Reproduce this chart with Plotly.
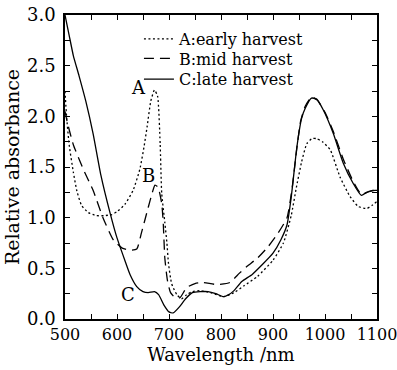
import plotly.graph_objects as go

# Curve A: early harvest (dotted)
wl_a = [500, 503, 508, 516, 523, 532, 545, 560, 575, 590, 600, 615, 631, 644, 652, 658, 665, 672, 678, 683, 686, 692, 696, 699, 705, 715, 724, 734, 745, 760, 780, 805, 825, 845, 870, 900, 920, 935, 945, 955, 965, 975, 984, 995, 1010, 1029, 1048, 1064, 1080, 1090, 1100]
abs_a = [2.25, 2.00, 1.72, 1.45, 1.26, 1.12, 1.05, 1.02, 1.02, 1.03, 1.06, 1.13, 1.27, 1.48, 1.70, 1.90, 2.15, 2.26, 2.20, 1.73, 1.24, 0.95, 0.75, 0.55, 0.35, 0.24, 0.20, 0.24, 0.27, 0.28, 0.26, 0.22, 0.26, 0.33, 0.42, 0.58, 0.75, 1.02, 1.30, 1.55, 1.73, 1.78, 1.78, 1.75, 1.67, 1.40, 1.21, 1.11, 1.09, 1.12, 1.16]

# Curve B: mid harvest (dashed)
wl_b = [500, 504, 516, 535, 554, 573, 593, 610, 625, 638, 647, 660, 668, 673, 679, 686, 689, 692, 697, 703, 712, 721, 734, 750, 765, 792, 817, 835, 850, 870, 890, 910, 927, 937, 945, 953, 962, 974, 985, 1000, 1016, 1035, 1054, 1070, 1085, 1100]
abs_b = [2.05, 1.95, 1.72, 1.48, 1.27, 1.00, 0.78, 0.70, 0.68, 0.69, 0.85, 1.10, 1.25, 1.32, 1.30, 1.14, 0.94, 0.60, 0.38, 0.26, 0.21, 0.21, 0.31, 0.35, 0.36, 0.34, 0.36, 0.45, 0.52, 0.60, 0.71, 0.85, 1.00, 1.30, 1.65, 1.95, 2.10, 2.19, 2.16, 2.04, 1.85, 1.58, 1.36, 1.23, 1.26, 1.28]

# Curve C: late harvest (solid)
wl_c = [500, 508, 516, 527, 540, 554, 569, 587, 600, 615, 625, 638, 650, 660, 672, 680, 690, 700, 708, 720, 732, 745, 760, 775, 790, 805, 815, 825, 840, 860, 880, 900, 915, 927, 935, 946, 955, 962, 974, 984, 997, 1016, 1035, 1054, 1070, 1080, 1087, 1096, 1100]
abs_c = [3.00, 2.80, 2.60, 2.40, 2.15, 1.83, 1.42, 1.04, 0.80, 0.58, 0.44, 0.32, 0.27, 0.26, 0.27, 0.24, 0.14, 0.07, 0.06, 0.12, 0.20, 0.26, 0.27, 0.27, 0.25, 0.22, 0.24, 0.28, 0.37, 0.44, 0.54, 0.65, 0.78, 0.93, 1.20, 1.70, 1.98, 2.08, 2.18, 2.17, 2.06, 1.83, 1.54, 1.34, 1.22, 1.25, 1.26, 1.27, 1.27]

names = ["A:early harvest", "B:mid harvest", "C:late harvest"]
dashes = ["2px,2.5px", "10px,6px", "solid"]
legend_ids = ["legend", "legend2", "legend3"]

# curve labels
lab_text = ["A", "B", "C"]
lab_x = [642, 660, 621]
lab_y = [2.28, 1.42, 0.24]

x_ticks = [500, 600, 700, 800, 900, 1000, 1100]
y_ticks = [0.0, 0.5, 1.0, 1.5, 2.0, 2.5, 3.0]

FONT = "DejaVu Serif"

fig = go.Figure()
for wl, ab, nm, ds, lg in zip([wl_a, wl_b, wl_c], [abs_a, abs_b, abs_c], names, dashes, legend_ids):
    fig.add_trace(go.Scatter(
        x=wl, y=ab, name=nm, mode="lines", legend=lg,
        line=dict(color="black", width=1.3, dash=ds, shape="spline", smoothing=0.5),
    ))

for t, x, y in zip(lab_text, lab_x, lab_y):
    fig.add_annotation(x=x, y=y, text=t, showarrow=False,
                       font=dict(family=FONT, size=18, color="black"))

axis_common = dict(
    showline=True, linecolor="black", linewidth=1.5, mirror="ticks",
    ticks="inside", ticklen=5, tickwidth=1.2, tickcolor="black",
    showgrid=False, zeroline=False, ticklabeloverflow="allow",
    automargin=False, tickangle=0,
)

fig.update_xaxes(
    range=[500, 1100], tickvals=x_ticks,
    tickfont=dict(family=FONT, size=16, color="black"),
    minor=dict(dtick=50, ticks="inside", ticklen=5, tickwidth=1.2, tickcolor="black", showgrid=False),
    title=dict(text="Wavelength /nm", font=dict(family=FONT, size=18, color="black"), standoff=2),
    **axis_common,
)
fig.update_yaxes(
    range=[0, 3.0], tickvals=y_ticks, tickformat=".1f", ticklabelstandoff=4,
    tickfont=dict(family=FONT, size=18, color="black"),
    minor=dict(dtick=0.25, ticks="inside", ticklen=5, tickwidth=1.2, tickcolor="black", showgrid=False),
    title=dict(text="Relative absorbance", font=dict(family=FONT, size=19, color="black"), standoff=2),
    **axis_common,
)

leg_common = dict(x=0.237, xanchor="left", yanchor="middle",
                  bgcolor="rgba(0,0,0,0)", borderwidth=0, itemwidth=30,
                  font=dict(family=FONT, size=16, color="black"))
fig.update_layout(
    width=397, height=370,
    margin=dict(l=65, r=20, t=15, b=51),
    paper_bgcolor="white", plot_bgcolor="white",
    showlegend=True,
    legend=dict(y=0.921, **leg_common),
    legend2=dict(y=0.857, **leg_common),
    legend3=dict(y=0.789, **leg_common),
)

fig.write_html(
    "out.html",
    config={"displayModeBar": False},
    post_script="document.body.style.margin='0px';document.body.style.overflow='hidden';",
)
